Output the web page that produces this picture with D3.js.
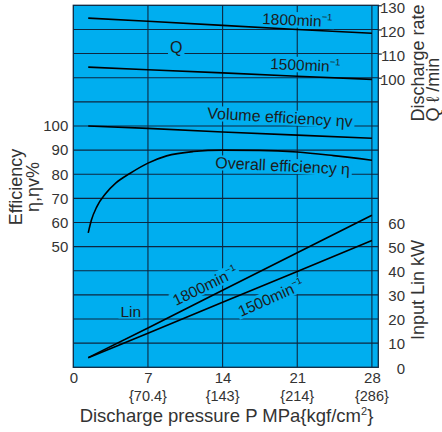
<!DOCTYPE html>
<html><head><meta charset="utf-8">
<script src="https://cdn.jsdelivr.net/npm/d3@7/dist/d3.min.js"></script>
<style>
body{margin:0;background:#fff}
svg{display:block}
text{font-family:"Liberation Sans",Arial,Helvetica,sans-serif}
</style>
</head><body><script>
// ---- data ----
const pressureTicks = [0, 7, 14, 21, 28];
const kgfLabels = ["", "{70.4}", "{143}", "{214}", "{286}"];
const effTicks = [50, 60, 70, 80, 90, 100];
const qTicks = [100, 110, 120, 130];
const kwTicks = [0, 10, 20, 30, 40, 50, 60];

const linePressure = [1.4, 7, 14, 21, 28];
const q1800 = [124.7, 123.4, 121.7, 120.0, 118.4];
const q1500 = [104.4, 103.3, 102.0, 100.6, 99.3];
const volEff = [100, 99.0, 97.5, 96.2, 94.9];
const lin1800 = [4.0, 16.3, 31.9, 47.5, 63.0];
const lin1500 = [4.0, 14.1, 27.0, 39.7, 52.5];

const overallPressure = [1.4, 1.7, 2.2, 3.0, 4.0, 5.3, 7, 8.75, 11.25, 14, 17.5, 21, 24.4, 28];
const overallEff = [55.7, 61.0, 66.5, 71.8, 76.4, 80.3, 84.6, 87.6, 89.4, 90.0, 89.9, 89.2, 87.7, 85.8];

// ---- layout ----
const W = 442, H = 432;
const L = 73.3, R = 378.3, T = 5.3, B = 367.3;
const BG = "#00aeef", GRID = "#0d2740", TXT = "#333333", INK = "#1c1c1c";

const svg = d3.select("body").append("svg").attr("width", W).attr("height", H);

const x = d3.scaleLinear().domain([0, 28.6]).range([L, R]);
const yEff = d3.scaleLinear().domain([0, 150]).range([B, T]);
const yQ = d3.scaleLinear().domain([-20, 130]).range([B, T]);
const yKW = d3.scaleLinear().domain([0, 150]).range([B, T]);

// background
svg.append("rect").attr("x", L).attr("y", T).attr("width", R - L).attr("height", B - T).attr("fill", BG);

// grid
const grid = svg.append("g").attr("stroke", GRID).attr("stroke-width", 1.1);
grid.selectAll("line.h").data(d3.range(10, 150, 10)).join("line")
  .attr("x1", L).attr("x2", R).attr("y1", d => yEff(d)).attr("y2", d => yEff(d));
grid.selectAll("line.v").data([7, 14, 21, 28]).join("line")
  .attr("y1", T).attr("y2", B).attr("x1", d => x(d)).attr("x2", d => x(d));

// frame
svg.append("rect").attr("x", L).attr("y", T).attr("width", R - L).attr("height", B - T)
  .attr("fill", "none").attr("stroke", GRID).attr("stroke-width", 1.3);

// layers: label backgrounds, data lines, label text
const rectLayer = svg.append("g");
const lines = svg.append("g").attr("fill", "none").attr("stroke", "#000").attr("stroke-width", 1.6);
const textLayer = svg.append("g");

function label(str, sup, px, py, rot, size) {
  const tr = `translate(${px},${py}) rotate(${rot})`;
  const t = textLayer.append("text").attr("transform", tr).attr("font-size", size).attr("fill", INK).text(str);
  if (sup) {
    t.append("tspan").attr("font-size", size * 0.6).attr("dy", -size * 0.42).text(sup);
  }
  const bb = t.node().getBBox();
  rectLayer.append("rect").attr("transform", tr).attr("fill", BG)
    .attr("x", bb.x - 2).attr("y", bb.y + 1).attr("width", bb.width + 4).attr("height", bb.height - 2);
}

label("1800min", "\u22121", 262, 24, 2.5, 15.5);
label("1500min", "\u22121", 270, 69, 2.5, 15.5);
label("Q", null, 170, 53, 0, 16);
label("Volume efficiency \u03b7v", null, 207, 118.5, 3.3, 16);
label("Overall efficiency \u03b7", null, 215, 168, 2.8, 16);
label("Lin", null, 120.5, 316.5, 0, 15.5);
label("1800min", "\u22121", 176, 306, -26, 15.5);
label("1500min", "\u22121", 241, 317, -24, 15.5);

// data lines
function straight(vals, ys) {
  const gen = d3.line().x((d, i) => x(linePressure[i])).y(d => ys(d));
  lines.append("path").attr("d", gen(vals));
}
straight(q1800, yQ);
straight(q1500, yQ);
straight(volEff, yEff);
straight(lin1800, yKW);
straight(lin1500, yKW);
lines.append("path").attr("d",
  d3.line().curve(d3.curveMonotoneX)
    .x((d, i) => x(overallPressure[i])).y(d => yEff(d))(overallEff));

// axes
const fs = 15;
const leftAx = svg.append("g").attr("transform", `translate(${L},0)`)
  .call(d3.axisLeft(yEff).tickValues(effTicks).tickSize(0).tickPadding(5));
leftAx.select(".domain").remove();

const qAx = svg.append("g").attr("transform", `translate(${R},0)`)
  .call(d3.axisRight(yQ).tickValues(qTicks).tickSize(3.5).tickPadding(3));
qAx.select(".domain").remove();
qAx.selectAll("line").attr("stroke", GRID).attr("stroke-width", 1.2);
qAx.selectAll("text").attr("text-anchor", "end").attr("x", 26.7).attr("y", 2);

const kAx = svg.append("g").attr("transform", `translate(${R},0)`)
  .call(d3.axisRight(yKW).tickValues(kwTicks).tickSize(0).tickPadding(3));
kAx.select(".domain").remove();
kAx.selectAll("text").attr("text-anchor", "end").attr("x", 26.7).attr("y", 1);

const bAx = svg.append("g").attr("transform", `translate(0,${B})`)
  .call(d3.axisBottom(x).tickValues(pressureTicks).tickSize(0).tickPadding(5));
bAx.select(".domain").remove();

svg.selectAll(".tick text").attr("font-size", fs).attr("fill", TXT)
  .attr("font-family", '"Liberation Sans",Arial,Helvetica,sans-serif');

svg.append("g").selectAll("text").data(pressureTicks).join("text")
  .attr("x", d => x(d)).attr("y", 400.5).attr("text-anchor", "middle")
  .attr("font-size", 14.5).attr("fill", TXT).text((d, i) => kgfLabels[i]);

// titles
const title = svg.append("g").attr("fill", TXT).attr("font-size", 18);
const bt = title.append("text").attr("x", 226.5).attr("y", 421.5).attr("text-anchor", "middle")
  .attr("font-size", 18.5).text("Discharge pressure P MPa{kgf/cm");
bt.append("tspan").attr("font-size", 11).attr("dy", -7).text("2");
bt.append("tspan").attr("dy", 7).text("}");

title.append("text").attr("transform", "translate(21.5,187) rotate(-90)").attr("text-anchor", "middle").text("Efficiency");
title.append("text").attr("transform", "translate(38.5,187) rotate(-90)").attr("text-anchor", "middle").text("\u03b7,\u03b7v%");

title.append("text").attr("transform", "translate(423.5,121.5) rotate(-90)").text("Discharge rate");
title.append("text").attr("transform", "translate(438.5,121.5) rotate(-90)").text("Q  \u2113 /min");
title.append("text").attr("transform", "translate(423.5,340) rotate(-90)").text("Input Lin kW");
</script></body></html>
